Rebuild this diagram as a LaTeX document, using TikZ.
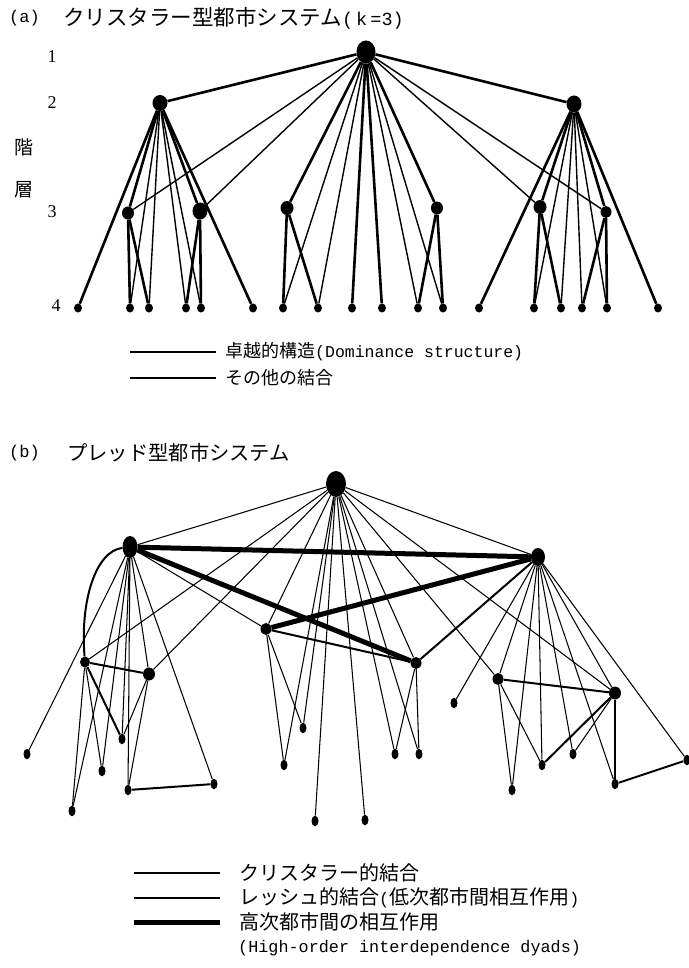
\documentclass[tikz,border=0pt]{standalone}
\usepackage{fontspec}
\setmainfont{Liberation Serif}
\newfontfamily\jp{Noto Sans CJK JP}
\newfontfamily\mono{Liberation Mono}
\usetikzlibrary{shapes.geometric}
\tikzset{
  nd/.style 2 args={ellipse,fill=black,draw=none,inner sep=0pt,minimum width=#1,minimum height=#2},
  sm/.style={nd={8pt}{9pt}},
  thk/.style={line width=2.6pt},
  thn/.style={line width=1.4pt},
  bthin/.style={line width=1.05pt},
  bmed/.style={line width=2pt},
  bthick/.style={line width=5pt},
  jtxt/.style={anchor=west,inner sep=0pt,font=\jp\fontsize{18}{20}\selectfont},
  jbig/.style={anchor=west,inner sep=0pt,font=\jp\fontsize{20}{22}\selectfont},
  lvl/.style={inner sep=0pt,font=\fontsize{18}{20}\selectfont},
}
\begin{document}
\begin{tikzpicture}[x=1pt,y=-1pt]
\useasboundingbox (0,0) rectangle (688,968);
\fill[white] (0,0) rectangle (688,968);

% ---------------- (a) ----------------
\node[anchor=west,inner sep=0pt,font=\mono\fontsize{17}{19}\selectfont] (ta) at (9,18) {(a)};
\node[anchor=west,inner sep=0pt,font=\jp\fontsize{21.5}{23}\selectfont] (tja) at (63,18) {クリスタラー型都市システム{\mono\fontsize{18.5}{20}\selectfont(\,k\,=3)}};
\node[lvl] (l1) at (52,57) {1};
\node[lvl] (l2) at (52,103) {2};
\node[lvl] (l3) at (52,212) {3};
\node[lvl] (l4) at (56,306) {4};
\node[inner sep=0pt,font=\jp\fontsize{19}{21}\selectfont] (kai) at (24,147) {階};
\node[inner sep=0pt,font=\jp\fontsize{19}{21}\selectfont] (sou) at (24,190) {層};

\node[nd={19pt}{23pt}] (aT) at (366,52) {};
\node[nd={15pt}{16pt}] (aL) at (160,103) {};
\node[nd={15pt}{17pt}] (aR) at (574,104) {};
\node[nd={12pt}{13pt}] (a3a) at (128,213) {};
\node[nd={15pt}{17pt}] (a3b) at (200,211) {};
\node[nd={13pt}{14pt}] (a3c) at (287,208) {};
\node[nd={12pt}{13pt}] (a3d) at (437,208) {};
\node[nd={13pt}{14pt}] (a3e) at (540,207) {};
\node[nd={11pt}{12pt}] (a3f) at (606,212) {};
\foreach \n/\x in {1/78,2/130,3/149,4/186,5/201,6/253,7/283,8/318,9/352,10/382,11/418,12/443,13/479,14/534,15/561,16/582,17/607,18/658}
  \node[sm] (p\n) at (\x,308) {};

% dominance structure (thick)
\foreach \u/\v in {aT/aL,aT/aR,aT/a3c,aT/a3d,aT/p9,aT/p10,
  aL/a3a,aL/a3b,aL/p1,aL/p6,a3a/p2,a3a/p3,a3b/p4,a3b/p5,
  a3c/p7,a3c/p8,a3d/p11,a3d/p12,
  aR/a3e,aR/a3f,aR/p13,aR/p18,a3e/p14,a3e/p15,a3f/p16,a3f/p17}
  \draw[thk] (\u) -- (\v);
% other links (thin)
\foreach \u/\v in {aT/a3a,aT/a3b,aT/a3e,aT/a3f,aT/p7,aT/p8,aT/p11,aT/p12,
  aL/p2,aL/p3,aL/p4,aL/p5,aR/p14,aR/p15,aR/p16,aR/p17}
  \draw[thn] (\u) -- (\v);

% legend (a)
\coordinate (lga1) at (130,352); \coordinate (lga2) at (216,352);
\coordinate (lgb1) at (130,378); \coordinate (lgb2) at (216,378);
\draw[line width=2pt] (lga1) -- (lga2);
\draw[line width=1.2pt] (lgb1) -- (lgb2);
\node[jtxt] (lta) at (225,352) {卓越的構造{\mono\fontsize{16.5}{18}\selectfont(Dominance structure)}};
\node[jtxt] (ltb) at (225,378) {その他の結合};

% ---------------- (b) ----------------
\node[anchor=west,inner sep=0pt,font=\mono\fontsize{17}{19}\selectfont] (tb) at (9,453) {(b)};
\node[anchor=west,inner sep=0pt,font=\jp\fontsize{20.3}{22}\selectfont] (tjb) at (67,453) {プレッド型都市システム};

\node[nd={20pt}{26pt}] (T) at (336,484) {};
\node[nd={15pt}{22pt}] (L) at (130,547) {};
\node[nd={14pt}{18pt}] (R) at (538,557) {};
\node[nd={11pt}{12pt}] (M1) at (266,629) {};
\node[nd={11pt}{12pt}] (M2) at (416,663) {};
\node[nd={10pt}{11pt}] (A1) at (85,662) {};
\node[nd={12pt}{13pt}] (A2) at (149,674) {};
\node[nd={11pt}{12pt}] (B1) at (498,679) {};
\node[nd={12pt}{13pt}] (B2) at (615,693) {};
\foreach \n/\x/\y in {a/27/754,b/122/739,c/102/771,d/128/790,e/214/784,f/72/811,
  g/303/728,h/284/765,i/315/821,j/454/703,k/395/754,l/419/754,m/365/820,
  n/512/790,o/542/765,p/573/754,q/615/784,r/687/760}
  \node[nd={7pt}{10.5pt}] (\n) at (\x,\y) {};

% Christaller-type links (thin)
\foreach \u/\v in {T/L,T/R,T/A1,T/A2,T/M1,T/M2,T/g,T/h,T/i,T/k,T/l,T/m,T/B1,T/B2,
  L/a,L/f,L/c,L/b,L/d,L/e,L/M1,L/A2,A1/f,A1/c,A2/b,A2/d,
  M1/g,M1/h,M2/k,M2/l,
  R/B1,R/B2,R/j,R/n,R/o,R/p,R/q,R/r,B1/n,B1/o,B2/p,B2/q}
  \draw[bthin] (\u) -- (\v);
% Loesch-type links (medium)
\foreach \u/\v in {A1/A2,A1/b,d/e,M1/M2,M2/R,B1/B2,B2/o,q/r}
  \draw[bmed] (\u) -- (\v);
\draw[bmed] (L) .. controls (96,551) and (80,600) .. (A1);
% high-order dyads (thick)
\draw[bthick] (L) -- (R);
\draw[bthick] (L) -- (M2);
\draw[bthick] (R) -- (M1);

% legend (b)
\coordinate (lgc1) at (134,873); \coordinate (lgc2) at (220,873);
\coordinate (lgd1) at (134,898); \coordinate (lgd2) at (220,898);
\coordinate (lge1) at (134,922); \coordinate (lge2) at (220,922);
\draw[line width=1.2pt] (lgc1) -- (lgc2);
\draw[line width=2pt] (lgd1) -- (lgd2);
\draw[line width=5pt] (lge1) -- (lge2);
\node[jbig] (ltc) at (239,873) {クリスタラー的結合};
\node[jbig] (ltd) at (239,898) {レッシュ的結合{\mono\fontsize{16.8}{18}\selectfont(}低次都市間相互作用{\mono\fontsize{16.8}{18}\selectfont)}};
\node[jbig] (lte) at (239,922) {高次都市間の相互作用};
\node[anchor=west,inner sep=0pt,font=\mono\fontsize{16.8}{18}\selectfont] (ltf) at (238,948) {(High-order interdependence dyads)};
\end{tikzpicture}
\end{document}
